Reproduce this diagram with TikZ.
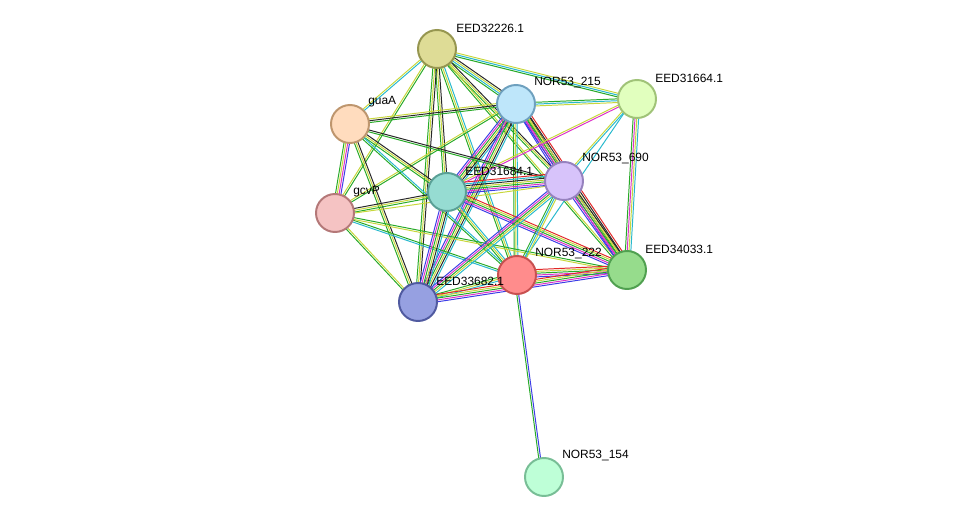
\documentclass[tikz,border=0pt]{standalone}
\usepackage{fontspec}
\setmainfont{Liberation Sans}
\usetikzlibrary{calc}
\definecolor{ctext}{RGB}{200,215,60}
\definecolor{cco}{RGB}{40,40,40}
\definecolor{cexp}{RGB}{220,50,200}
\definecolor{cdb}{RGB}{40,185,205}
\definecolor{cnb}{RGB}{40,170,40}
\definecolor{cfus}{RGB}{225,40,40}
\definecolor{cblue}{RGB}{60,60,230}
\definecolor{f32226}{RGB}{222,220,150}\definecolor{d32226}{RGB}{150,150,80}
\definecolor{f215}{RGB}{190,230,250}\definecolor{d215}{RGB}{110,160,190}
\definecolor{f31664}{RGB}{225,255,190}\definecolor{d31664}{RGB}{160,195,120}
\definecolor{fguaa}{RGB}{255,220,190}\definecolor{dguaa}{RGB}{190,150,110}
\definecolor{f690}{RGB}{215,195,250}\definecolor{d690}{RGB}{150,130,190}
\definecolor{f31684}{RGB}{150,220,210}\definecolor{d31684}{RGB}{90,160,150}
\definecolor{fgcvp}{RGB}{245,195,195}\definecolor{dgcvp}{RGB}{180,120,120}
\definecolor{f34033}{RGB}{150,220,140}\definecolor{d34033}{RGB}{80,160,80}
\definecolor{f222}{RGB}{255,140,140}\definecolor{d222}{RGB}{200,80,80}
\definecolor{f33682}{RGB}{150,160,225}\definecolor{d33682}{RGB}{80,90,160}
\definecolor{f154}{RGB}{190,255,215}\definecolor{d154}{RGB}{120,190,150}
\tikzset{
  prot/.style={circle,minimum size=0.95cm,inner sep=0pt,line width=1.4pt,fill=f#1,draw=d#1},
  lbl/.style={font=\fontsize{8.5}{10}\selectfont,anchor=west,inner sep=0pt},
  link/.style={line width=0.7pt}
}
% one connector = a bundle of parallel coloured lines
\newcommand\edge[3]{%
  \foreach \c [count=\i] in {#3}{%
    \draw[link,\c] ($(#1)!{(\i-2.5)*1.3pt}!90:(#2)$) -- ($(#2)!{(\i-2.5)*1.3pt}!-90:(#1)$);}}
\begin{document}
\begin{tikzpicture}[x=0.025cm,y=-0.025cm]
\useasboundingbox (0,0) rectangle (976,523);
%%% positions
\coordinate (eed32226) at (437,49);
\coordinate (nor215) at (516,104);
\coordinate (eed31664) at (637,99);
\coordinate (guaa) at (350,124);
\coordinate (nor690) at (564,181);
\coordinate (eed31684) at (447,192);
\coordinate (gcvp) at (335,213);
\coordinate (eed34033) at (627,270);
\coordinate (nor222) at (517,275);
\coordinate (eed33682) at (418,302);
\coordinate (nor154) at (544,477);
%%% connectors
\edge{eed32226}{nor215}{cnb,cdb,ctext,cco}
\edge{eed32226}{eed31664}{cnb,cdb,ctext}
\edge{eed32226}{guaa}{ctext,cdb}
\edge{eed32226}{gcvp}{ctext,cnb}
\edge{eed32226}{eed31684}{cnb,ctext,cco}
\edge{eed32226}{nor690}{cnb,ctext,cco}
\edge{eed32226}{nor222}{cnb,ctext,cdb}
\edge{eed32226}{eed33682}{cnb,ctext,cco}
\edge{eed32226}{eed34033}{cnb,ctext}
\edge{nor215}{eed31664}{ctext,cdb,cnb}
\edge{nor215}{guaa}{ctext,cco,cnb}
\edge{nor215}{gcvp}{ctext,cnb}
\edge{nor215}{eed31684}{cblue,cexp,cnb,ctext,cco,cdb}
\edge{nor215}{nor690}{cblue,cexp,cnb,ctext,cco}
\edge{nor215}{eed34033}{cblue,cexp,cnb,ctext,cco,cfus}
\edge{nor215}{nor222}{cnb,ctext,cdb}
\edge{nor215}{eed33682}{cblue,cexp,cnb,ctext,cco,cdb}
\edge{eed31664}{eed34033}{cnb,cexp,ctext,cdb}
\edge{eed31664}{nor690}{ctext,cdb}
\edge{eed31664}{eed31684}{ctext,cexp}
\edge{eed31664}{nor222}{cdb}
\edge{guaa}{gcvp}{cnb,ctext,cexp,cblue}
\edge{guaa}{eed31684}{cnb,ctext,cco}
\edge{guaa}{nor690}{cnb,cco}
\edge{guaa}{eed33682}{cnb,ctext,cco}
\edge{guaa}{nor222}{cnb,cdb}
\edge{gcvp}{eed31684}{cnb,ctext,cco}
\edge{gcvp}{nor690}{ctext}
\edge{gcvp}{eed33682}{cnb,ctext}
\edge{gcvp}{nor222}{cdb,cnb}
\edge{gcvp}{eed34033}{ctext,cnb}
\edge{eed31684}{nor690}{cblue,cexp,cnb,ctext,cco,cdb,cfus}
\edge{eed31684}{eed33682}{cblue,cexp,cnb,ctext,cco,cdb}
\edge{eed31684}{nor222}{cnb,ctext,cdb}
\edge{eed31684}{eed34033}{cblue,cexp,cnb,ctext,cfus}
\edge{nor690}{eed34033}{cblue,cexp,cnb,ctext,cco}
\edge{nor690}{nor222}{cnb,cdb,ctext}
\edge{nor690}{eed33682}{cblue,cexp,cnb,ctext,cdb}
\edge{nor222}{eed34033}{cblue,cexp,cnb,ctext,cfus}
\edge{nor222}{eed33682}{cnb,ctext,cdb}
\edge{eed33682}{eed34033}{cblue,cexp,cnb,ctext,cfus}
\edge{nor222}{nor154}{cnb,cblue}
%%% proteins
\node[prot=32226] (n32226) at (eed32226) {};
\node[prot=215] (n215) at (nor215) {};
\node[prot=31664] (n31664) at (eed31664) {};
\node[prot=guaa] (nguaa) at (guaa) {};
\node[prot=690] (n690) at (nor690) {};
\node[prot=31684] (n31684) at (eed31684) {};
\node[prot=gcvp] (ngcvp) at (gcvp) {};
\node[prot=34033] (n34033) at (eed34033) {};
\node[prot=222] (n222) at (nor222) {};
\node[prot=33682] (n33682) at (eed33682) {};
\node[prot=154] (n154) at (nor154) {};
%%% labels
\node[lbl] at ($(eed32226)+(19,-21)$) {EED32226.1};
\node[lbl] at ($(nor215)+(18,-21)$) {NOR53\_215};
\node[lbl] at ($(eed31664)+(18,-21)$) {EED31664.1};
\node[lbl] at ($(guaa)+(18,-22)$) {guaA};
\node[lbl] at ($(nor690)+(18,-22)$) {NOR53\_690};
\node[lbl] at ($(eed31684)+(18,-21)$) {EED31684.1};
\node[lbl] at ($(gcvp)+(18,-21)$) {gcvP};
\node[lbl] at ($(eed34033)+(18,-21)$) {EED34033.1};
\node[lbl] at ($(nor222)+(18,-21)$) {NOR53\_222};
\node[lbl] at ($(eed33682)+(18,-21)$) {EED33682.1};
\node[lbl] at ($(nor154)+(18,-21)$) {NOR53\_154};
\end{tikzpicture}
\end{document}
